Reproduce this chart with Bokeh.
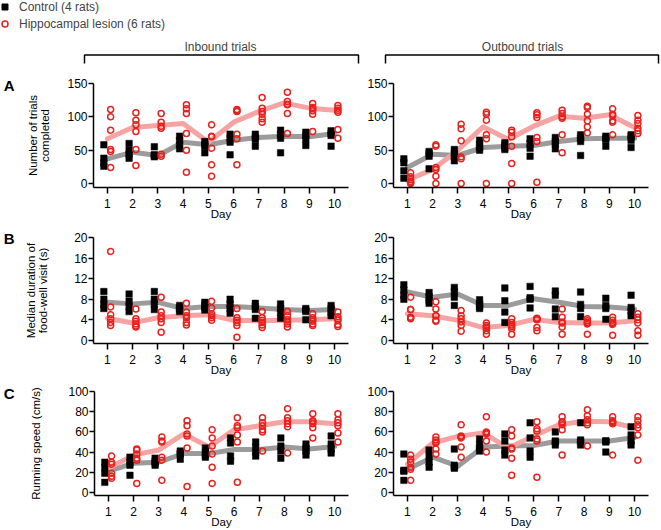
from bokeh.plotting import figure
from bokeh.layouts import column, row
from bokeh.models import Range1d, FixedTicker, Label, Legend, LegendItem, LinearAxis
from bokeh.transform import dodge
from bokeh.embed import file_html
from bokeh.resources import INLINE

FONT = "Liberation Sans"
days = [1, 2, 3, 4, 5, 6, 7, 8, 9, 10]

# ---------- A: number of trials completed ----------
inbound_trials_control = [
    [58, 38, 31, 26], [60, 50, 44, 38], [55, 43, 42, 40], [71, 65, 58, 52], [63, 59, 56, 46],
    [74, 68, 62, 43], [74, 69, 66, 56], [80, 74, 68, 46], [77, 72, 66, 57], [79, 75, 72, 56]]
inbound_trials_lesion = [
    [111, 100, 80, 51, 48, 24], [106, 95, 88, 78, 51, 27], [105, 92, 86, 83, 44, 41],
    [118, 112, 105, 75, 50, 17], [88, 71, 70, 53, 28, 11], [111, 109, 108, 74, 67, 28],
    [129, 113, 108, 104, 97, 92], [137, 123, 119, 118, 105, 75], [120, 114, 112, 109, 104, 78],
    [117, 113, 110, 107, 81, 68]]
inbound_trials_control_line = [37, 47, 42, 62, 58, 65, 69, 71, 70, 75]
inbound_trials_lesion_line = [67, 84, 87, 90, 62, 92, 108, 121, 113, 110]

outbound_trials_control = [
    [37, 31, 19, 8], [48, 45, 41, 22], [51, 45, 40, 34], [65, 59, 54, 50], [61, 57, 54, 51],
    [67, 60, 53, 41], [69, 63, 59, 52], [73, 68, 63, 42], [71, 68, 66, 56], [73, 70, 65, 54]]
outbound_trials_lesion = [
    [16, 10, 6, 3, 1, 0], [58, 56, 24, 21, 11, 0], [89, 82, 64, 40, 37, 0],
    [107, 104, 95, 73, 67, 0], [80, 77, 70, 56, 30, 0], [106, 103, 99, 69, 63, 2],
    [110, 105, 100, 98, 73, 46], [116, 114, 104, 94, 85, 76], [112, 104, 102, 94, 92, 73],
    [102, 95, 90, 83, 79, 75]]
outbound_trials_control_line = [24, 44, 42, 54, 56, 57, 63, 67, 68, 68]
outbound_trials_lesion_line = [5, 21, 50, 85, 66, 86, 101, 98, 103, 84]

# ---------- B: median duration of food-well visit (s) ----------
inbound_duration_control = [
    [9.5, 8.0, 7.0, 6.2], [9.0, 7.6, 6.6, 5.6], [9.5, 8.0, 7.0, 6.0], [6.8, 6.3, 6.0, 5.6],
    [7.4, 6.9, 6.4, 5.9], [8.0, 7.0, 6.2, 5.3], [7.2, 6.6, 6.0, 4.3], [7.1, 6.2, 5.4, 4.3],
    [6.2, 5.9, 5.6, 4.0], [6.8, 6.2, 5.4, 4.8]]
inbound_duration_lesion = [
    [17.3, 6.5, 5.0, 4.2, 3.5, 2.9], [6.1, 4.2, 3.7, 3.2, 2.8, 2.6], [8.4, 5.5, 4.8, 4.2, 3.5, 1.6],
    [7.2, 5.5, 4.8, 4.4, 3.5, 3.0], [7.6, 6.3, 5.2, 4.8, 4.4, 3.9], [6.2, 4.4, 3.9, 3.5, 2.9, 0.6],
    [5.6, 4.4, 3.9, 3.5, 3.0, 2.5], [5.6, 4.8, 4.0, 3.6, 3.2, 2.6], [5.2, 4.4, 4.0, 3.7, 3.2, 2.9],
    [5.5, 4.6, 4.2, 3.9, 3.1, 2.7]]
inbound_duration_control_line = [7.4, 7.1, 7.4, 6.2, 6.6, 6.6, 6.3, 6.0, 5.8, 6.0]
inbound_duration_lesion_line = [4.3, 3.4, 4.4, 4.8, 5.0, 3.9, 3.8, 3.9, 4.0, 4.2]

outbound_duration_control = [
    [10.8, 9.8, 8.8, 8.0], [9.3, 8.5, 7.8, 7.2], [10.3, 9.5, 8.4, 6.8], [7.9, 7.1, 6.6, 6.2],
    [10.2, 7.7, 5.5, 3.5], [10.5, 8.3, 8.0, 6.3], [9.6, 8.8, 6.1, 4.6], [9.4, 7.0, 6.2, 4.6],
    [8.2, 6.8, 6.2, 4.1], [8.8, 6.4, 5.6, 4.8]]
outbound_duration_lesion = [
    [8.4, 6.0, 6.0, 4.5, 4.4, 4.2], [7.5, 6.1, 4.8, 4.8, 3.9, 3.7], [5.8, 4.8, 4.2, 3.6, 2.9, 1.8],
    [3.4, 2.9, 2.6, 2.4, 1.9, 1.2], [4.2, 3.5, 3.0, 2.7, 2.3, 1.2], [4.3, 4.2, 4.1, 4.0, 2.5, 1.9],
    [6.1, 4.5, 3.6, 3.4, 2.6, 1.2], [4.2, 3.8, 3.5, 3.3, 3.2, 1.2], [4.5, 3.9, 3.5, 3.3, 3.1, 1.0],
    [5.2, 4.5, 4.0, 3.4, 1.9, 1.0]]
outbound_duration_control_line = [9.4, 8.4, 9.0, 6.8, 6.8, 8.1, 7.4, 6.6, 6.5, 6.1]
outbound_duration_lesion_line = [5.2, 4.8, 3.9, 2.5, 2.9, 4.1, 3.5, 3.4, 3.4, 3.8]

# ---------- C: running speed (cm/s) ----------
inbound_speed_control = [
    [30, 25, 19, 10], [35, 30, 27, 17], [34, 31, 29, 27], [41, 39, 38, 33], [44, 40, 37, 35],
    [54, 49, 36, 31], [50, 45, 40, 36], [54, 46, 41, 34], [48, 44, 41, 37], [56, 48, 43, 39]]
inbound_speed_lesion = [
    [36, 30, 28, 19, 16, 14], [43, 42, 38, 34, 32, 9], [55, 51, 50, 35, 32, 12],
    [71, 66, 58, 56, 44, 6], [62, 54, 46, 38, 25, 9], [74, 66, 64, 57, 50, 10],
    [74, 69, 66, 62, 60, 41], [83, 74, 71, 68, 65, 39], [78, 71, 70, 68, 64, 54],
    [78, 72, 69, 66, 59, 50]]
inbound_speed_control_line = [21, 29, 30, 38.5, 38.5, 42.5, 42.5, 45, 43, 45.5]
inbound_speed_lesion_line = [24, 37, 42, 58, 45, 62, 66, 70, 70, 68]

outbound_speed_control = [
    [38, 22, 21, 12], [42, 36, 30, 25], [43, 27, 25, 24], [53, 47, 44, 41], [58, 51, 42, 37],
    [69, 54, 41, 35], [60, 51, 50, 47], [69, 52, 50, 47], [51, 51, 50, 40], [65, 57, 51, 47]]
outbound_speed_lesion = [
    [37, 33, 30, 25, 23, 12], [55, 52, 50, 49, 43, 38], [67, 56, 55, 54, 45, 35],
    [75, 60, 59, 58, 51, 40], [62, 56, 44, 43, 34, 17], [70, 63, 61, 53, 51, 15],
    [75, 70, 69, 67, 62, 37], [82, 76, 72, 69, 67, 46], [75, 71, 70, 69, 68, 37],
    [75, 71, 67, 64, 57, 32]]
outbound_speed_control_line = [23, 35, 26, 45, 46, 46.5, 51, 51, 51, 54.5]
outbound_speed_lesion_line = [28, 49, 55.5, 59, 44, 56, 67, 70.5, 70, 64]

ticks_A = [0, 50, 100, 150]
ticks_B = [0, 4, 8, 12, 16, 20]
ticks_C = [0, 20, 40, 60, 80, 100]

RED = "#e8211d"
PINK = "#f6a3a3"
GREY = "#9b9b9b"


def flatten(groups):
    xs, ys = [], []
    for d, vals in zip(days, groups):
        for v in vals:
            xs.append(d)
            ys.append(v)
    return xs, ys


def blank(width, height):
    p = figure(width=width, height=height, output_backend="svg", toolbar_location=None,
               x_range=Range1d(0, width), y_range=Range1d(height, 0),
               x_axis_location=None, y_axis_location=None,
               min_border_left=0, min_border_right=0, min_border_top=0, min_border_bottom=0)
    p.outline_line_color = None
    p.grid.visible = False
    return p


def panel(ctrl, les, ctrl_line, les_line, yr, yticks, left, height, top, bottom,
          ylabel=None, label_standoff=10, letter=None, letter_y=None, letter_standoff=15):
    if left:
        width, bl, br = 362, 93, 14
    else:
        width, bl, br = 299, 31, 13
    p = figure(width=width, height=height, output_backend="svg", toolbar_location=None,
               x_range=Range1d(0.45, 10.55), y_range=Range1d(*yr),
               min_border_left=bl, min_border_right=br, min_border_top=top,
               min_border_bottom=bottom)
    p.outline_line_color = None
    p.grid.visible = False
    p.background_fill_color = "white"
    p.border_fill_color = "white"

    p.line(days, ctrl_line, line_width=5, color=GREY, line_join="round", line_cap="round")
    p.line(days, les_line, line_width=5, color=PINK, line_join="round", line_cap="round")
    cx, cy = flatten(ctrl)
    lx, ly = flatten(les)
    p.scatter(x=dodge("x", -0.14), y="y", source=dict(x=cx, y=cy), marker="square",
              size=6.5, fill_color="black", line_color="black", line_width=0.5)
    p.scatter(x=dodge("x", 0.13), y="y", source=dict(x=lx, y=ly), marker="circle",
              size=6, fill_color=None, line_color=RED, line_width=1.5)

    for ax in (p.xaxis[0], p.yaxis[0]):
        ax.axis_line_width = 1.5
        ax.major_tick_line_width = 1.5
        ax.major_tick_in = 0
        ax.minor_tick_out = 0
        ax.minor_tick_in = 0
        ax.major_label_text_font = FONT
        ax.major_label_text_font_size = "12px"
        ax.major_label_text_color = "black"
        ax.axis_label_text_font = FONT
        ax.axis_label_text_font_size = "11.5px"
        ax.axis_label_text_font_style = "normal"
        ax.axis_label_text_color = "black"
        ax.axis_label_text_line_height = 1.05
    p.xaxis.ticker = FixedTicker(ticks=days)
    p.xaxis.major_tick_out = 6
    p.xaxis.major_label_standoff = 5
    p.xaxis.axis_label = "Day"
    p.xaxis.axis_label_standoff = -3
    p.yaxis.ticker = FixedTicker(ticks=yticks)
    p.yaxis.major_tick_out = 5
    p.yaxis.major_label_standoff = 1
    if ylabel:
        p.yaxis.axis_label = ylabel
        p.yaxis.axis_label_standoff = label_standoff
    if letter:
        # panel letter drawn as the single tick label of an outer, line-less axis
        lax = LinearAxis(ticker=FixedTicker(ticks=[letter_y]),
                         major_label_overrides={letter_y: letter},
                         axis_line_color=None, major_tick_line_color=None,
                         minor_tick_line_color=None, major_tick_out=0, major_tick_in=0,
                         major_label_standoff=letter_standoff,
                         major_label_text_font=FONT, major_label_text_font_size="15px",
                         major_label_text_font_style="bold", major_label_text_color="black")
        p.add_layout(lax, "left")
    return p


# header with legend and bracket titles
HW, HH = 661, 70
header = blank(HW, HH)
# proxy renderers for the legend (single point kept outside the visible range)
r_ctrl = header.scatter(x=[-100], y=[-100], marker="square", size=6.5, fill_color="black",
                        line_color="black")
r_les = header.scatter(x=[-100], y=[-100], marker="circle", size=6, fill_color=None,
                       line_color=RED, line_width=1.5)
legend = Legend(items=[LegendItem(label="Control (4 rats)", renderers=[r_ctrl]),
                       LegendItem(label="Hippocampal lesion (6 rats)", renderers=[r_les])],
                location=(-3, 39), margin=0, padding=0, spacing=2,
                glyph_width=15, glyph_height=15, label_height=15, label_standoff=7,
                border_line_color=None, background_fill_alpha=0,
                label_text_font=FONT, label_text_font_size="12px")
header.add_layout(legend)
header.multi_line(xs=[[84, 84, 358, 358], [385, 385, 658, 658]],
                  ys=[[63, 54.5, 54.5, 63], [63, 54.5, 54.5, 63]], line_width=1.5, color="black")
for txt, xc in (("Inbound trials", 220), ("Outbound trials", 522)):
    header.add_layout(Label(x=xc, y=46, text=txt, text_font=FONT,
                            text_font_size="12px", text_align="center",
                            text_baseline="middle"))

aL = panel(inbound_trials_control, inbound_trials_lesion, inbound_trials_control_line,
           inbound_trials_lesion_line, (-6, 150), ticks_A, True, 154, 13, 37,
           ylabel="Number of trials\ncompleted", label_standoff=13,
           letter="A", letter_y=147, letter_standoff=9)
aR = panel(outbound_trials_control, outbound_trials_lesion, outbound_trials_control_line,
           outbound_trials_lesion_line, (-6, 150), ticks_A, False, 154, 13, 37)
bL = panel(inbound_duration_control, inbound_duration_lesion, inbound_duration_control_line,
           inbound_duration_lesion_line, (-0.6, 20), ticks_B, True, 154, 13, 35,
           ylabel="Median duration of\nfood-well visit (s)", label_standoff=22,
           letter="B", letter_y=19.8, letter_standoff=7)
bR = panel(outbound_duration_control, outbound_duration_lesion, outbound_duration_control_line,
           outbound_duration_lesion_line, (-0.6, 20), ticks_B, False, 154, 13, 35)
cL = panel(inbound_speed_control, inbound_speed_lesion, inbound_speed_control_line,
           inbound_speed_lesion_line, (-3, 100), ticks_C, True, 152, 13, 32,
           ylabel="Running speed (cm/s)", label_standoff=23,
           letter="C", letter_y=98, letter_standoff=13)
cR = panel(outbound_speed_control, outbound_speed_lesion, outbound_speed_control_line,
           outbound_speed_lesion_line, (-3, 100), ticks_C, False, 152, 13, 32)

layout = column(header, row(aL, aR), row(bL, bR), row(cL, cR))
open("out.html", "w").write(file_html(layout, INLINE))
